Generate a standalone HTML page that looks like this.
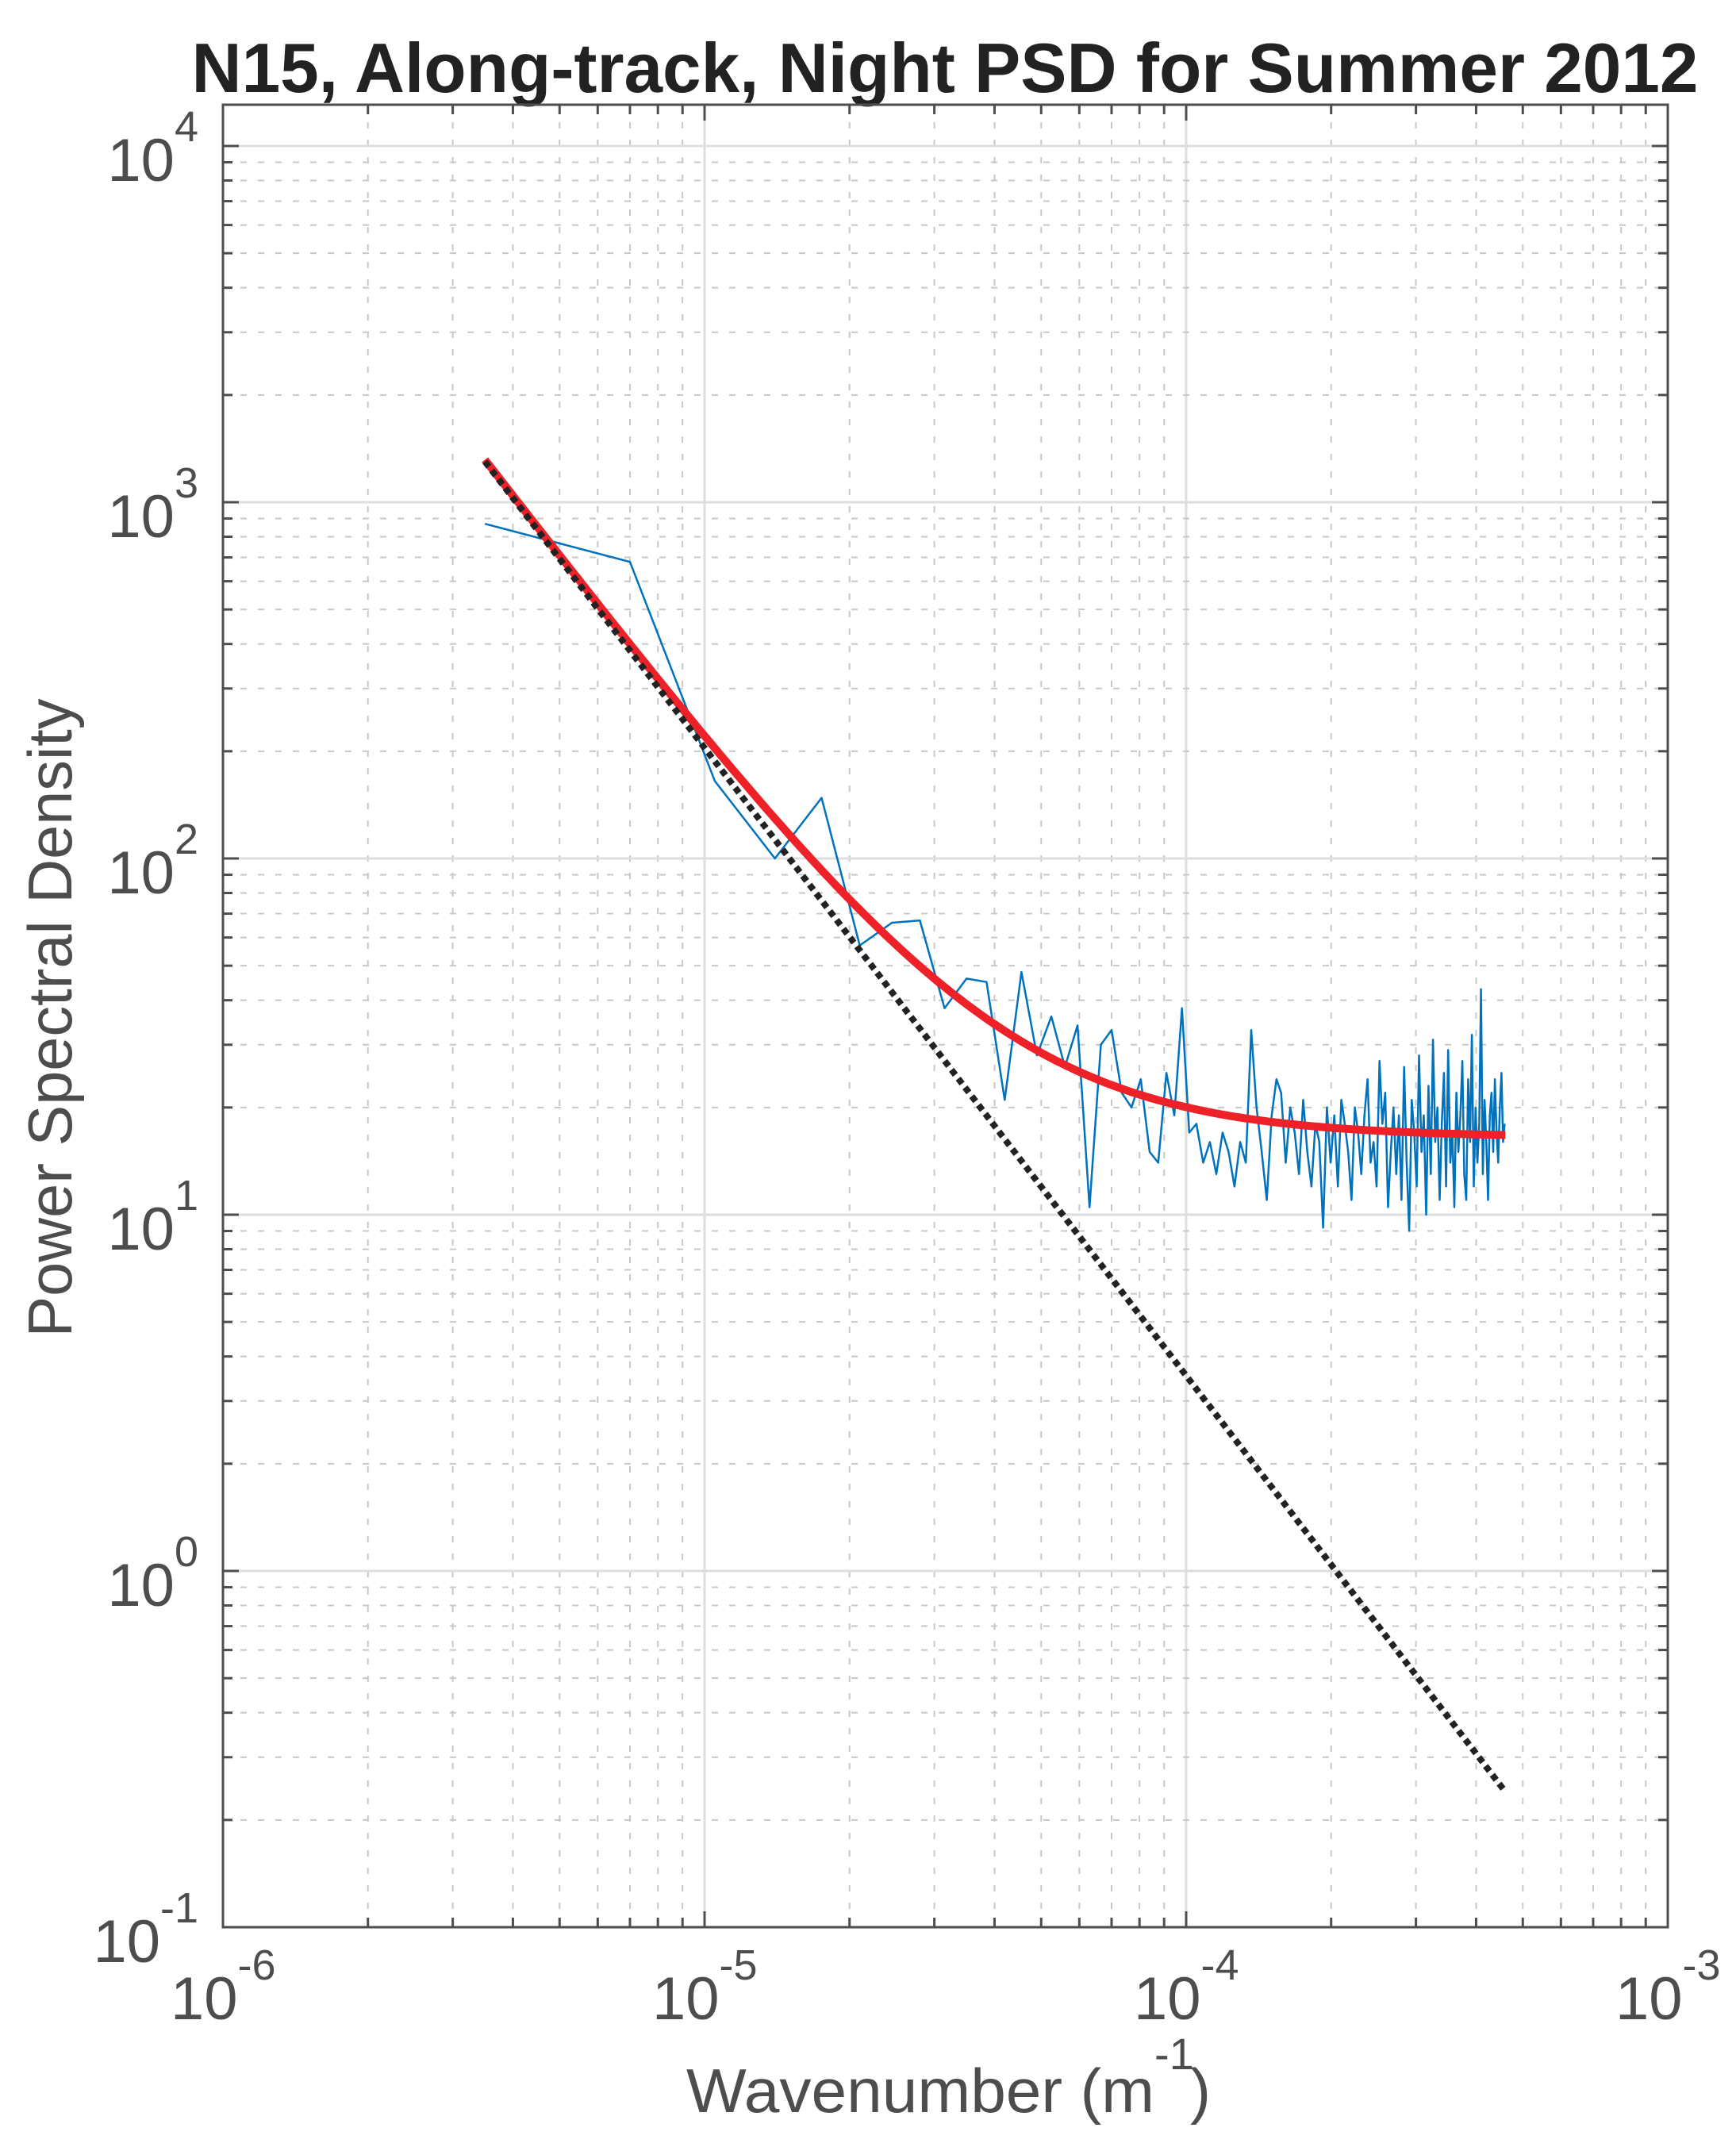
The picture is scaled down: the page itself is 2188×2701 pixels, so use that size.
<!DOCTYPE html>
<html><head><meta charset="utf-8"><style>
html,body{margin:0;padding:0;background:#fff}
svg{display:block}
</style></head><body>
<svg id="chart" width="2188" height="2701" viewBox="0 0 2188 2701" xmlns="http://www.w3.org/2000/svg" font-family="Liberation Sans, Arial, sans-serif">
<rect width="2188" height="2701" fill="#fff"/>
<text x="1191" y="116" text-anchor="middle" font-size="88" font-weight="bold" fill="#222" textLength="1899" lengthAdjust="spacingAndGlyphs">N15, Along-track, Night PSD for Summer 2012</text>
<g id="grid"></g>
<g id="series"></g>
<g id="axes"></g>
<text x="865" y="2662" font-size="78" fill="#4d4d4d" textLength="590" lengthAdjust="spacingAndGlyphs">Wavenumber (m</text>
<text x="1455" y="2608" font-size="56" fill="#4d4d4d">-1</text>
<text x="1500" y="2662" font-size="78" fill="#4d4d4d">)</text>
<text transform="translate(90,1283) rotate(-90)" text-anchor="middle" font-size="78" fill="#4d4d4d" textLength="805" lengthAdjust="spacingAndGlyphs">Power Spectral Density</text>
</svg>
<script>
const xTickExps = [-6, -5, -4, -3];
const yTickExps = [-1, 0, 1, 2, 3, 4];
const dk = 3.5e-6;
const psdValues = [870,680,165,100,148,57,66,67,38,46,45,21,48,28,36,26,34,10.5,30,33,22,20,24,15,14,25,19,38,17,
18,14,16,13,17,15,12,16,14,33,
20,15,11,19,24,22,14,20,17,13,
21,15,12,18,16,9.2,20,14,19,12,
21,18,15,11,20,17,13,19,24,14,
16,12,27,18,22,10.5,15,20,13,19,
11,26,14,9,21,17,12,28,15,19,
10,23,13,31,16,20,11,18,25,12,
29,14,17,10.5,22,15,19,27,13,11,
24,16,32,12,20,14,18,43,13,21,
16,11,19,22,15,24,17,14,20,25,
16,18];
const powerLawEnds = [1300, 0.24];
const powerLawK = [3.5e-6, 4.6e-4];
const noiseFloor = [16.5];

const NS='http://www.w3.org/2000/svg';
const L=281,R=2102,T=132,B=2429;
const xLog0=-6,xLog1=-3;
const yDec=449, y4=184;
function X(k){return L+(Math.log10(k)-xLog0)/(xLog1-xLog0)*(R-L);}
function Y(v){return y4+(4-Math.log10(v))*yDec;}
function mk(tag,attrs,parent){const e=document.createElementNS(NS,tag);for(const a in attrs)e.setAttribute(a,attrs[a]);parent.appendChild(e);return e;}
const grid=document.getElementById('grid'),axes=document.getElementById('axes'),series=document.getElementById('series');

for(let e=-6;e<-3;e++){for(let m=1;m<10;m++){const x=X(m*Math.pow(10,e));
  if(m===1){if(e>-6){const l=mk('line',{x1:x,x2:x,y1:T,y2:B,stroke:'#dedede','stroke-width':3},grid);
    
    }}
  else{const l=mk('line',{x1:x,x2:x,y1:T,y2:B,stroke:'#c8c8c8','stroke-width':2,'stroke-dasharray':'8 14'},grid);
    
    }
  const tl=m===1?20:12;
  const t1=mk('line',{x1:x,x2:x,y1:B,y2:B-tl,stroke:'#4d4d4d','stroke-width':3},axes);
  
  
  const t2=mk('line',{x1:x,x2:x,y1:T,y2:T+tl,stroke:'#4d4d4d','stroke-width':3},axes);
  
  
}}
for(let e=-1;e<=4;e++){for(let m=1;m<10;m++){const v=m*Math.pow(10,e);const y=Y(v);if(y<T)continue;
  if(m===1){if(e>-1){const l=mk('line',{x1:L,x2:R,y1:y,y2:y,stroke:'#dedede','stroke-width':3},grid);
    
    }}
  else{const l=mk('line',{x1:L,x2:R,y1:y,y2:y,stroke:'#c8c8c8','stroke-width':2,'stroke-dasharray':'8 14'},grid);
    
    }
  const tl=m===1?20:12;
  const t1=mk('line',{x1:L,x2:L+tl,y1:y,y2:y,stroke:'#4d4d4d','stroke-width':3},axes);
  
  
  const t2=mk('line',{x1:R,x2:R-tl,y1:y,y2:y,stroke:'#4d4d4d','stroke-width':3},axes);
  
  
}}
const box=mk('rect',{x:L,y:T,width:R-L,height:B-T,fill:'none',stroke:'#4d4d4d','stroke-width':3},axes);



xTickExps.forEach(e=>{const x=X(Math.pow(10,e));
  const t=mk('text',{x:x-66,y:2545,'font-size':76,fill:'#4d4d4d'},axes);
  
  
  t.textContent='10';
  const s=mk('tspan',{dy:-50,'font-size':54},t);s.textContent=String(e);
});
yTickExps.forEach(e=>{const y=Y(Math.pow(10,e));
  const lab=mk('text',{x:250,y:y+44,'font-size':76,fill:'#4d4d4d','text-anchor':'end'},axes);
  
  
  lab.textContent='10';
  const s=mk('tspan',{dy:-50,'font-size':54},lab);s.textContent=String(e);
});

let d='';psdValues.forEach((v,i)=>{d+=(i?'L':'M')+X((i+1)*dk).toFixed(1)+' '+Y(v).toFixed(1);});
const blue=mk('path',{d:d,fill:'none',stroke:'#0072BD','stroke-width':2.5,'stroke-linejoin':'round'},series);



const slope=Math.log10(powerLawEnds[1]/powerLawEnds[0])/Math.log10(powerLawK[1]/powerLawK[0]);
function pl(k){return powerLawEnds[0]*Math.pow(k/powerLawK[0],slope);}
let dr='';for(let i=0;i<=200;i++){const k=powerLawK[0]*Math.pow(powerLawK[1]/powerLawK[0],i/200);dr+=(i?'L':'M')+X(k).toFixed(1)+' '+Y(pl(k)+noiseFloor[0]).toFixed(1);}
const red=mk('path',{d:dr,fill:'none',stroke:'#EE2028','stroke-width':10,'stroke-linejoin':'round'},series);


const blk=mk('line',{x1:X(powerLawK[0]),y1:Y(powerLawEnds[0]),x2:X(powerLawK[1]),y2:Y(powerLawEnds[1]),stroke:'#222','stroke-width':8,'stroke-dasharray':'8 6'},series);


</script>
</body></html>
